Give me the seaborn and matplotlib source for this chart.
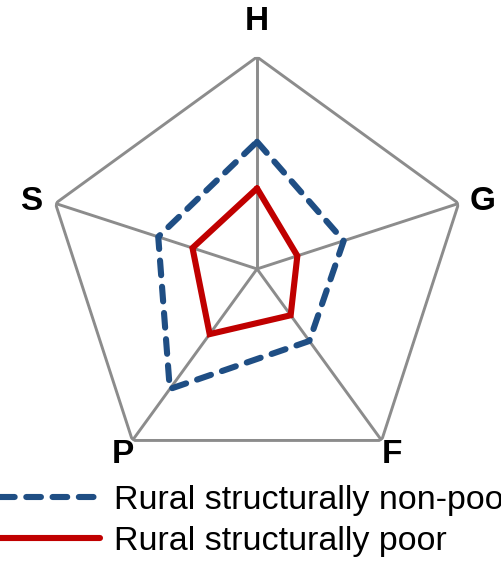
import numpy as np
import pandas as pd
import matplotlib
matplotlib.use("Agg")
import matplotlib.pyplot as plt
import seaborn as sns

# Axes and values (scale 0..1)
axes_labels = ["H", "G", "F", "P", "S"]
non_poor = [0.60, 0.43, 0.42, 0.70, 0.49]
poor = [0.38, 0.20, 0.27, 0.38, 0.32]
series_names = ["Rural structurally non-poor", "Rural structurally poor"]

sns.set_style("white")
plt.rcParams["font.family"] = ["Liberation Sans", "DejaVu Sans"]
plt.rcParams["text.color"] = "black"

angles = np.linspace(0, 2 * np.pi, len(axes_labels), endpoint=False)
closed_angles = np.append(angles, 2 * np.pi)

fig = plt.figure(figsize=(5.02, 5.61), dpi=100)
ax = fig.add_axes([0.0897, 0.1426, 0.8446, 0.756], projection="polar")
ax.set_theta_zero_location("N")
ax.set_theta_direction(-1)

grid_color = "#8c8c8c"
# outer pentagon and spokes
ax.plot(closed_angles, np.ones(len(closed_angles)), color=grid_color, lw=2.1, zorder=1)
for a in angles:
    ax.plot([a, a], [0, 1], color=grid_color, lw=2.1, zorder=1)

df_np = pd.DataFrame({"theta": closed_angles, "value": non_poor + non_poor[:1]})
df_p = pd.DataFrame({"theta": closed_angles, "value": poor + poor[:1]})

sns.lineplot(data=df_np, x="theta", y="value", sort=False, estimator=None, ax=ax,
             color="#1f4e84", lw=4.4, label=series_names[0], zorder=3)
sns.lineplot(data=df_p, x="theta", y="value", sort=False, estimator=None, ax=ax,
             color="#c00000", lw=4.4, label=series_names[1], zorder=4)
ax.lines[-2].set_dashes((2.4, 1.9))
ax.lines[-2].set_dash_capstyle("round")
ax.lines[-1].set_solid_joinstyle("miter")

ax.set_ylim(0, 1)
ax.grid(False)
ax.spines["polar"].set_visible(False)
ax.set_xticks([])
ax.set_yticks([])
ax.set_xlabel("")
ax.set_ylabel("")

label_r = [1.165, 1.12, 1.08, 1.08, 1.12]
label_dy = [0, -4, 0, 0, -4]
for a, lab, r, dy in zip(angles, axes_labels, label_r, label_dy):
    ax.annotate(lab, xy=(a, r), xytext=(0, dy), textcoords="offset points",
                ha="center", va="center", fontsize=24, fontweight="bold",
                color="black", annotation_clip=False)

handles, labels = ax.get_legend_handles_labels()
ax.get_legend().remove()
fig.legend(handles, labels, loc="upper left", bbox_to_anchor=(0.0, 0.135),
           frameon=False, fontsize=24.5, handlelength=2.95, handletextpad=0.4,
           labelspacing=0.28, borderpad=0, borderaxespad=0)

fig.savefig("out.png", dpi=100)
